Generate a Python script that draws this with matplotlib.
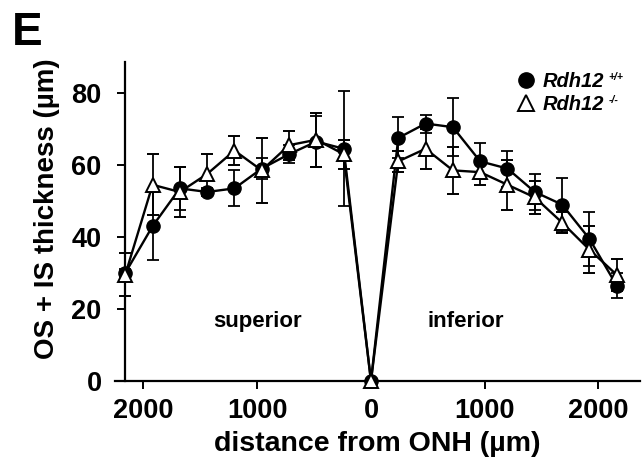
"""OS + IS thickness along the superior/inferior meridian, Rdh12 +/+ vs -/-."""
import matplotlib

matplotlib.use("Agg")  # headless
import matplotlib.pyplot as plt  # noqa: E402
from matplotlib.lines import Line2D  # noqa: E402
from matplotlib.ticker import FuncFormatter  # noqa: E402

plt.rcParams["font.family"] = ["Liberation Sans", "DejaVu Sans"]
plt.rcParams["font.weight"] = "bold"

# distance from ONH in um; superior side negative, inferior positive
DIST = [-2160, -1920, -1680, -1440, -1200, -960, -720, -480, -240, 0,
        240, 480, 720, 960, 1200, 1440, 1680, 1920, 2160]

WT_MEAN = [30, 43, 53.5, 52.5, 53.5, 59, 63, 66.5, 64.5, 0,
           67.5, 71.5, 70.5, 61, 59, 52.5, 49, 39.5, 26.5]
WT_SEM = [1, 9.5, 6, 1, 5, 3, 2.5, 7, 16, 0,
          5.7, 2.5, 8, 5, 5, 5, 7.5, 7.5, 3.5]

KO_MEAN = [29.5, 54.5, 52.5, 57.5, 64, 58.5, 65.5, 67, 63, 0,
           61, 64.5, 58.5, 58, 54.5, 51, 44, 36.5, 29.5]
KO_SEM = [6, 8.5, 7, 5.5, 4, 9, 4, 7.5, 4, 0,
          3, 5.5, 6.5, 3.5, 7, 4.5, 3, 6.5, 4.5]

X_TICKS = [-2000, -1000, 0, 1000, 2000]
Y_TICKS = [0, 20, 40, 60, 80]


def plot_thickness():
    fig = plt.figure(figsize=(6.44, 4.65), dpi=100)
    ax = fig.add_axes([0.1786, 0.1806, 0.8152, 0.6861])

    common = dict(color="black", lw=1.7, elinewidth=1.3, capsize=4, capthick=1.3,
                  markersize=9.5, clip_on=False)
    ax.errorbar(DIST, WT_MEAN, yerr=WT_SEM, marker="o", markerfacecolor="black",
                zorder=3, **common)
    ax.errorbar(DIST, KO_MEAN, yerr=KO_SEM, marker="^", markerfacecolor="white",
                markeredgewidth=1.4, zorder=4, **common)

    ax.set_xlim(-2250, 2365)
    ax.set_ylim(0, 88.6)
    ax.spines["left"].set_position(("data", DIST[0]))
    for side in ("top", "right"):
        ax.spines[side].set_visible(False)
    for side in ("left", "bottom"):
        ax.spines[side].set_linewidth(1.6)

    ax.set_xticks(X_TICKS)
    ax.set_yticks(Y_TICKS)
    ax.xaxis.set_major_formatter(FuncFormatter(lambda v, _: f"{abs(int(v))}"))
    ax.tick_params(axis="both", direction="out", length=6, width=1.4,
                   labelsize=19.5)
    ax.tick_params(axis="x", pad=6)
    ax.tick_params(axis="y", pad=11)

    ax.set_xlabel("distance from ONH (µm)", fontsize=20.5, fontweight="bold")
    ax.xaxis.set_label_coords(0.5, -0.158)
    ax.set_ylabel("OS + IS thickness (µm)", fontsize=20, fontweight="bold")
    ax.yaxis.set_label_coords(-0.104, 0.54)

    ax.text(-1000, 16.4, "superior", ha="center", va="center", fontsize=16,
            fontweight="bold")
    ax.text(830, 16.4, "inferior", ha="center", va="center", fontsize=16,
            fontweight="bold")

    handles = [
        Line2D([], [], ls="none", marker="o", color="black", markersize=11),
        Line2D([], [], ls="none", marker="^", color="black", markerfacecolor="white",
               markeredgewidth=1.4, markersize=12),
    ]
    leg = ax.legend(handles, ["Rdh12", "Rdh12"], loc="upper left",
                    bbox_to_anchor=(0.744, 1.0), frameon=False, borderpad=0,
                    handlelength=1.0, handletextpad=0.35, labelspacing=0.2,
                    prop={"size": 14.5, "weight": "bold", "style": "italic"})
    for txt, sup in zip(leg.get_texts(), ["+/+", "-/-"]):
        ax.annotate(sup, xy=(1, 0.75), xycoords=txt, xytext=(3, 0),
                    textcoords="offset points", fontsize=7.5, style="italic",
                    fontweight="bold", va="center")

    fig.text(0.018, 0.976, "E", fontsize=33, fontweight="bold", va="top")
    return fig


def main():
    fig = plot_thickness()
    fig.canvas.draw()  # place legend texts so the superscripts can follow them
    fig.savefig("out.png", dpi=100)


if __name__ == "__main__":
    main()
